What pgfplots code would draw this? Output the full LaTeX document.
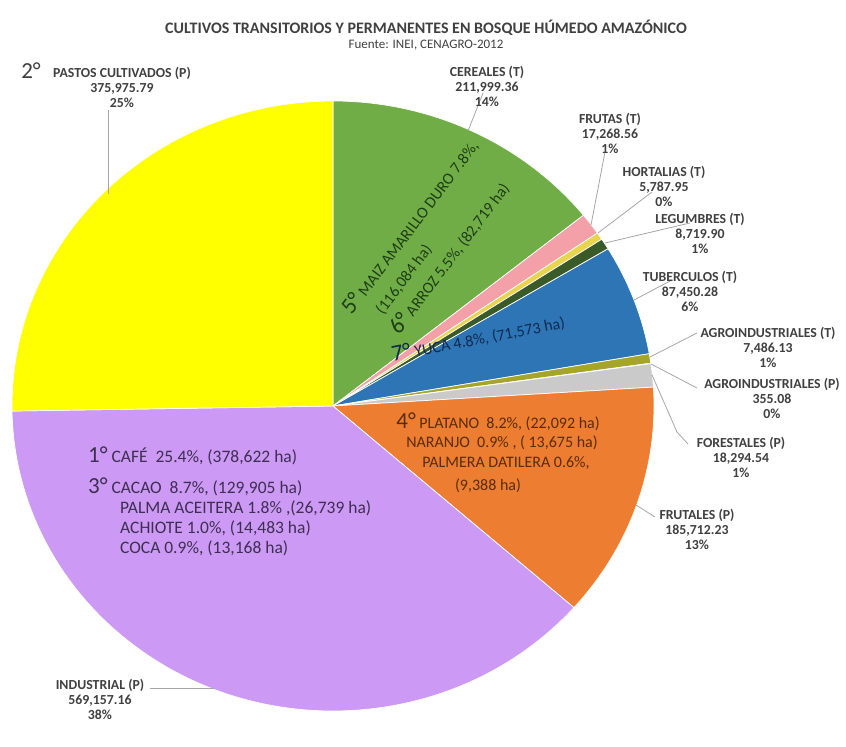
\documentclass[border=0pt]{standalone}
\usepackage{pgfplots}
\pgfplotsset{compat=1.18}
\usepackage{pgfplotstable}
\usepackage{fontspec}
\setmainfont{Carlito}

\definecolor{slice0}{HTML}{70AD47}
\definecolor{slice1}{HTML}{F4A0A8}
\definecolor{slice2}{HTML}{E8D44D}
\definecolor{slice3}{HTML}{3A5A28}
\definecolor{slice4}{HTML}{2E75B6}
\definecolor{slice5}{HTML}{A5A52A}
\definecolor{slice6}{HTML}{C8A0E0}
\definecolor{slice7}{HTML}{CACACA}
\definecolor{slice8}{HTML}{ED7D31}
\definecolor{slice9}{HTML}{CC99F5}
\definecolor{slice10}{HTML}{FFFF00}
\definecolor{lbl}{HTML}{404040}
\definecolor{leader}{HTML}{A6A6A6}
\definecolor{txtpur}{HTML}{3E2F52}
\definecolor{txtora}{HTML}{5A2C05}
\definecolor{txtgre}{HTML}{1E3D10}
\definecolor{txtblu}{HTML}{0E2A50}

% superficie (ha), clockwise from 12 o'clock
\pgfplotstableread{
name value
Cereales 211999.36
Frutas 17268.56
Hortalias 5787.95
Legumbres 8719.90
Tuberculos 87450.28
AgroT 7486.13
AgroP 355.08
Forestales 18294.54
Frutales 185712.23
Industrial 569157.16
Pastos 375975.79
}\piedata

\pgfplotstablegetrowsof{\piedata}
\pgfmathtruncatemacro\nlast{\pgfplotsretval-1}
\gdef\tot{0}
\foreach \i in {0,...,\nlast}{%
  \pgfplotstablegetelem{\i}{value}\of\piedata
  \xdef\tot{\fpeval{\tot+\pgfplotsretval}}}
\gdef\cum{0}
\foreach \i in {0,...,\nlast}{%
  \pgfplotstablegetelem{\i}{value}\of\piedata
  \expandafter\xdef\csname sA\i\endcsname{\fpeval{90-360*\cum/\tot}}%
  \xdef\cum{\fpeval{\cum+\pgfplotsretval}}%
  \expandafter\xdef\csname eA\i\endcsname{\fpeval{90-360*\cum/\tot}}}

\def\cx{333}\def\cy{406}\def\rx{321}\def\ry{305}
\newcommand\bignum[1]{{\fontsize{23}{23}\selectfont #1}}

\begin{document}
\begin{tikzpicture}
\begin{axis}[
  scale only axis, width=846pt, height=720pt,
  xmin=0, xmax=846, ymin=0, ymax=720, y dir=reverse,
  hide axis, clip=false]
\path (axis cs:0,0) rectangle (axis cs:846,720);
\pgfplotsinvokeforeach{0,...,10}{%
  \fill[fill=slice#1, draw=white, line width=0.7pt, line join=round]
    (axis cs:\cx,\cy) -- ++(\csname sA#1\endcsname:\rx pt and \ry pt)
    arc[start angle=\csname sA#1\endcsname, end angle=\csname eA#1\endcsname,
        x radius=\rx pt, y radius=\ry pt] -- cycle;
}
% title
\node[font=\fontsize{16}{18}\selectfont\bfseries, text=lbl] at (axis cs:426,28)
  {CULTIVOS TRANSITORIOS Y PERMANENTES EN BOSQUE HÚMEDO AMAZÓNICO};
\node[font=\fontsize{13}{14}\selectfont, text=lbl] at (axis cs:426,45)
  {Fuente: INEI, CENAGRO-2012};

% leader lines
\begin{scope}[leader, line width=0.8pt]
\draw (axis cs:108,110) -- (axis cs:108,194);
\draw (axis cs:483,93) -- (axis cs:468,131);
\draw (axis cs:605,152) -- (axis cs:591,225);
\draw (axis cs:652,192) -- (axis cs:598,233);
\draw (axis cs:690,223) -- (axis cs:605,243);
\draw (axis cs:672,280) -- (axis cs:634,300);
\draw (axis cs:697,333) -- (axis cs:650,357);
\draw (axis cs:697,388) -- (axis cs:651,364);
\draw (axis cs:652,375) -- (axis cs:677,432) -- (axis cs:688,444);
\draw (axis cs:655,517) -- (axis cs:636,505);
\draw (axis cs:150,688) -- (axis cs:214,688);
\end{scope}

% outer labels
\begin{scope}[every node/.style={font=\fontsize{13.8}{15}\selectfont\bfseries, text=lbl, align=center, inner sep=1pt}]
\node at (axis cs:122,87) {PASTOS CULTIVADOS (P)\\375,975.79\\25\%};
\node[font=\fontsize{23}{23}\selectfont] at (axis cs:31,71) {2°};
\node at (axis cs:487,86) {CEREALES (T)\\211,999.36\\14\%};
\node at (axis cs:610,133) {FRUTAS (T)\\17,268.56\\1\%};
\node at (axis cs:664,186) {HORTALIAS (T)\\5,787.95\\0\%};
\node at (axis cs:700,233) {LEGUMBRES (T)\\8,719.90\\1\%};
\node at (axis cs:690,291) {TUBERCULOS (T)\\87,450.28\\6\%};
\node at (axis cs:768,347) {AGROINDUSTRIALES (T)\\7,486.13\\1\%};
\node at (axis cs:772,398) {AGROINDUSTRIALES (P)\\355.08\\0\%};
\node at (axis cs:741,457) {FORESTALES (P)\\18,294.54\\1\%};
\node at (axis cs:697,529) {FRUTALES (P)\\185,712.23\\13\%};
\node at (axis cs:100,699) {INDUSTRIAL (P)\\569,157.16\\38\%};
\end{scope}

% inner labels: green
\node[font=\fontsize{16}{25}\selectfont, text=txtgre, rotate=53, align=left, inner sep=0pt]
  at (axis cs:430,242)
  {\bignum{5°} MAIZ AMARILLO DURO 7.8\%,\\ \hspace*{1.2em}(116,084 ha)\\ \hspace*{0.8em}\bignum{6°} ARROZ 5.5\%, (82,719 ha)};
% blue
\node[font=\fontsize{16}{18}\selectfont, text=txtblu, rotate=11, inner sep=0pt] at (axis cs:478,338)
  {\bignum{7°} YUCA 4.8\%, (71,573 ha)};
% orange
\begin{scope}[every node/.style={font=\fontsize{16}{18}\selectfont, text=txtora, inner sep=0pt}]
\node at (axis cs:498,422) {\bignum{4°} PLATANO\ \ 8.2\%, (22,092 ha)};
\node at (axis cs:502,443) {NARANJO\ \ 0.9\% , ( 13,675 ha)};
\node at (axis cs:506,463) {PALMERA DATILERA 0.6\%,};
\node at (axis cs:488,486) {(9,388 ha)};
\end{scope}
% purple
\begin{scope}[every node/.style={font=\fontsize{17.5}{19}\selectfont, text=txtpur, anchor=west, inner sep=0pt}]
\node at (axis cs:88,456) {\bignum{1°} CAFÉ\ \ 25.4\%, (378,622 ha)};
\node at (axis cs:88,487) {\bignum{3°} CACAO\ \ 8.7\%, (129,905 ha)};
\node at (axis cs:120,508) {PALMA ACEITERA 1.8\% ,(26,739 ha)};
\node at (axis cs:120,528) {ACHIOTE 1.0\%, (14,483 ha)};
\node at (axis cs:120,548) {COCA 0.9\%, (13,168 ha)};
\end{scope}
\end{axis}
\end{tikzpicture}
\end{document}
